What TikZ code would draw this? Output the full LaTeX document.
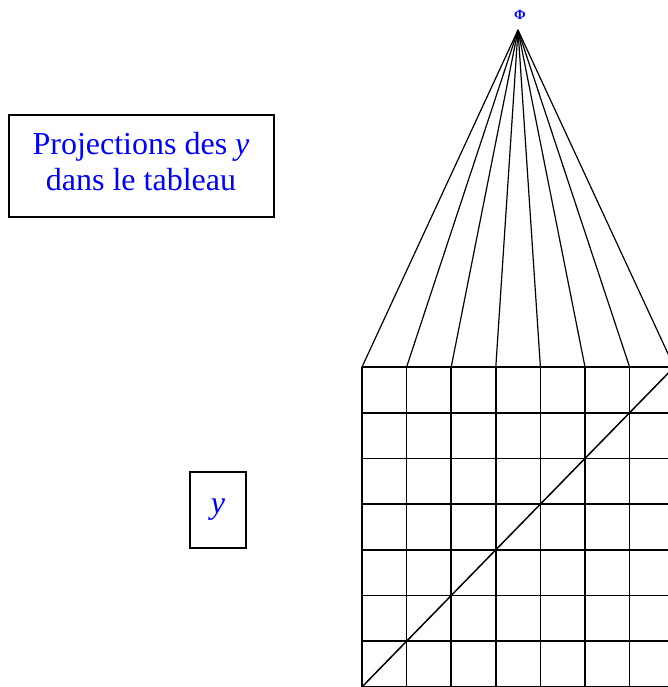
\documentclass[tikz,border=0pt]{standalone}
\usepackage{fontspec}
\setmainfont{Liberation Serif}
\begin{document}
\begin{tikzpicture}[x=1pt,y=-1pt,
  gridline/.style={line width=1.7pt},
  ray/.style={line width=1.2pt},
  labelbox/.style={draw,line width=1.5pt,text=blue,align=center,inner sep=0pt},
]
\useasboundingbox (0,0) rectangle (668,687);
\clip (0,0) rectangle (668,687);
% apex
\node[text=blue,inner sep=0pt,font=\fontsize{14}{14}\selectfont\bfseries] (phi) at (520,15) {Φ};
\coordinate (apex) at (518,30);
% grid
\foreach \i in {0,...,7}{
  \coordinate (top\i) at ({362+44.6*\i},367);
  \draw[gridline] (top\i) -- ++(0,340);
  \draw[ray] (apex) -- (top\i);
}
\foreach \j in {0,...,7}{
  \coordinate (left\j) at (362,{367+45.7*\j});
  \draw[gridline] (left\j) -- ++(340,0);
}
\draw[line width=1.5pt] (left7) -- (top7);
% labels
\draw[line width=1.5pt] (9,115) rectangle (274,217);
\node[text=blue,align=center,inner sep=0pt,font=\fontsize{32}{36}\selectfont] (proj) at (141,162) {Projections des \textit{y}\\dans le tableau};
\node[labelbox,minimum width=56,minimum height=76,font=\fontsize{32}{36}\selectfont] (ybox) at (218,510) {\textit{y}};
\end{tikzpicture}
\end{document}
